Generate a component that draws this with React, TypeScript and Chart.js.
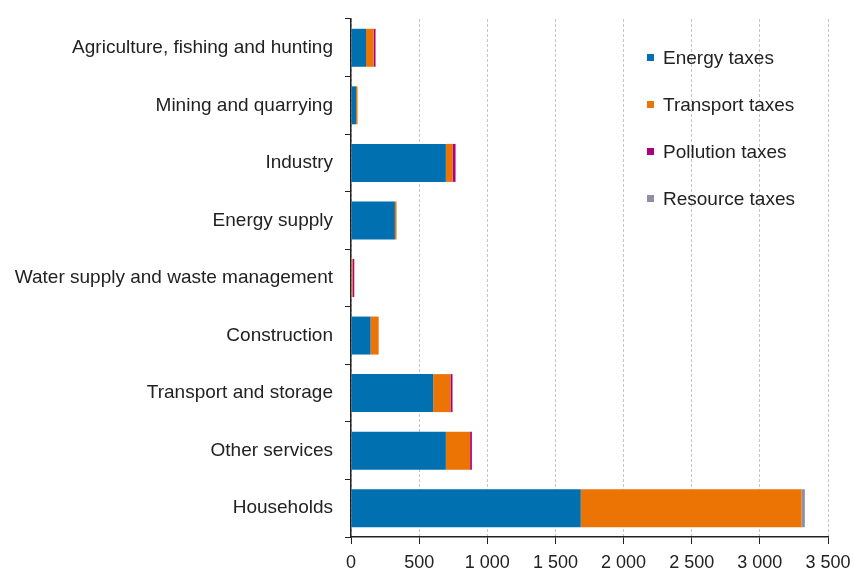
import React, { useEffect, useRef } from "react";
import { Chart, registerables } from "chart.js";

Chart.register(...registerables);

const categories = [
  "Agriculture, fishing and hunting",
  "Mining and quarrying",
  "Industry",
  "Energy supply",
  "Water supply and waste management",
  "Construction",
  "Transport and storage",
  "Other services",
  "Households",
];
const energyTaxes = [110, 37, 696, 322, 4, 144, 603, 696, 1686];
const transportTaxes = [56, 11, 49, 12, 8, 59, 127, 178, 1620];
const pollutionTaxes = [14, 0, 22, 0, 12, 0, 15, 13, 0];
const resourceTaxes = [0, 0, 0, 0, 0, 0, 0, 0, 24];
const xTicks = [0, 500, 1000, 1500, 2000, 2500, 3000, 3500];

const seriesNames = ["Energy taxes", "Transport taxes", "Pollution taxes", "Resource taxes"];
const seriesColors = ["#0070b0", "#eb7405", "#a8007f", "#8c8fa6"];

const FONT = "'Liberation Sans', Arial, sans-serif";

function fmt(v: number): string {
  return String(v).replace(/\B(?=(\d{3})+(?!\d))/g, " ");
}

export default function App() {
  const ref = useRef<HTMLCanvasElement | null>(null);
  useEffect(() => {
    document.body.style.margin = "0";
    const values = [energyTaxes, transportTaxes, pollutionTaxes, resourceTaxes];
    const chart = new Chart(ref.current!, {
      type: "bar",
      data: {
        labels: categories,
        datasets: values.map((d, i) => ({
          label: seriesNames[i],
          data: d,
          backgroundColor: seriesColors[i],
          borderWidth: 0,
          barPercentage: 0.66,
          categoryPercentage: 1,
        })),
      },
      options: {
        indexAxis: "y",
        animation: false,
        responsive: false,
        maintainAspectRatio: false,
        layout: { padding: { left: 0, right: 25, top: 19, bottom: 0 } },
        plugins: { legend: { display: false }, tooltip: { enabled: false } },
        scales: {
          x: {
            stacked: true,
            min: 0,
            max: 3500,
            afterBuildTicks: (axis: any) => {
              axis.ticks = xTicks.map((v) => ({ value: v }));
            },
            afterFit: (axis: any) => {
              axis.height = 32;
              axis.paddingLeft = 0;
              axis.paddingRight = 0;
            },
            ticks: {
              color: "#222",
              font: { family: FONT, size: 18 },
              padding: 8,
              callback: (v: any) => fmt(Number(v)),
              maxRotation: 0,
            },
            grid: {
              color: "#c4c4c4",
              tickColor: "#222",
              tickLength: 7,
              tickBorderDash: [],
              drawOnChartArea: true,
            },
            border: { color: "#222", width: 1.5, dash: [3, 2] },
          },
          y: {
            stacked: true,
            afterFit: (axis: any) => {
              axis.width = 351;
              axis.paddingTop = 0;
              axis.paddingBottom = 0;
            },
            ticks: {
              color: "#222",
              font: { family: FONT, size: 19 },
              padding: 12,
            },
            grid: {
              offset: true,
              drawOnChartArea: false,
              tickColor: "#222",
              tickLength: 6,
            },
            border: { color: "#222", width: 1.5 },
          },
        },
      },
    } as any);
    return () => chart.destroy();
  }, []);

  return (
    <div style={{ position: "relative", width: 853, height: 569 }}>
      <canvas ref={ref} width={853} height={569} style={{ width: 853, height: 569, display: "block" }} />
      <div
        style={{
          position: "absolute",
          left: 647,
          top: 34,
          fontFamily: FONT,
          fontSize: 19,
          color: "#222",
        }}
      >
        {seriesNames.map((n, i) => (
          <div key={n} style={{ display: "flex", alignItems: "center", height: 47 }}>
            <span
              style={{
                display: "inline-block",
                width: 7,
                height: 7,
                background: seriesColors[i],
                marginRight: 9,
              }}
            />
            <span>{n}</span>
          </div>
        ))}
      </div>
    </div>
  );
}
